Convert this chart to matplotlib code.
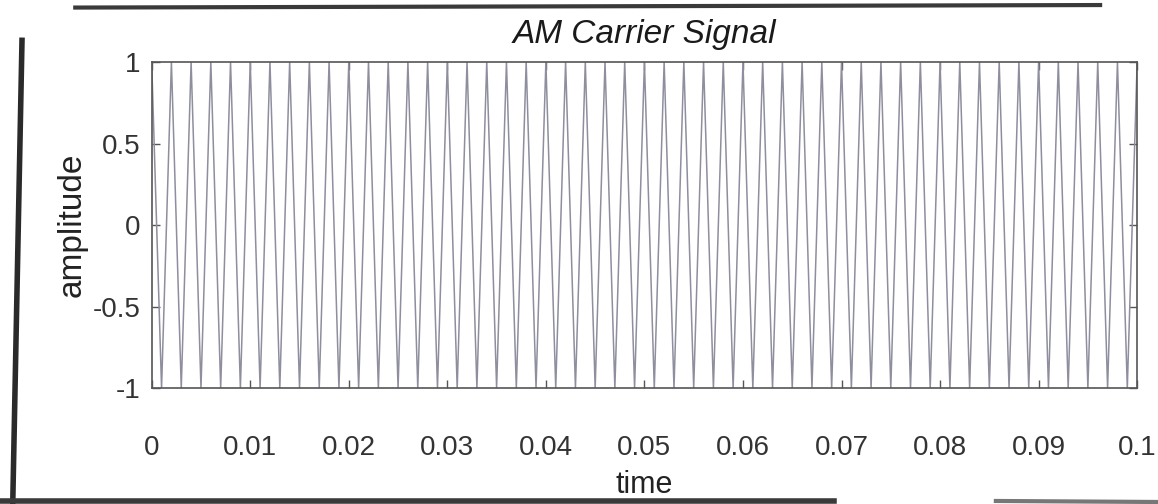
"""
AM carrier plot: sampled carrier against time, drawn in a MATLAB-like style.
"""

import numpy as np
import matplotlib.pyplot as plt
from matplotlib.lines import Line2D

# carrier samples, one every millisecond from 0 to 0.1 s
sample_step = 0.001
carrier = [
    1, -1, 1, -1, 1, -1, 1, -1, 1, -1, 1, -1, 1, -1, 1, -1, 1, -1, 1, -1,
    1, -1, 1, -1, 1, -1, 1, -1, 1, -1, 1, -1, 1, -1, 1, -1, 1, -1, 1, -1,
    1, -1, 1, -1, 1, -1, 1, -1, 1, -1, 1, -1, 1, -1, 1, -1, 1, -1, 1, -1,
    1, -1, 1, -1, 1, -1, 1, -1, 1, -1, 1, -1, 1, -1, 1, -1, 1, -1, 1, -1,
    1, -1, 1, -1, 1, -1, 1, -1, 1, -1, 1, -1, 1, -1, 1, -1, 1, -1, 1, -1,
    1,
]
time = np.arange(len(carrier)) * sample_step

x_ticks = [0, 0.01, 0.02, 0.03, 0.04, 0.05, 0.06, 0.07, 0.08, 0.09, 0.1]
x_tick_labels = ['0', '0.01', '0.02', '0.03', '0.04', '0.05', '0.06', '0.07', '0.08', '0.09', '0.1']
y_ticks = [-1, -0.5, 0, 0.5, 1]
y_tick_labels = ['-1', '-0.5', '0', '0.5', '1']

plt.rcParams['font.family'] = ['Liberation Sans', 'DejaVu Sans']

fig = plt.figure(figsize=(11.58, 5.04), dpi=100)
ax = fig.add_axes([0.131, 0.230, 0.851, 0.647])

ax.plot(time, carrier, color='#8e8e9e', linewidth=1.1)

ax.set_xlim(0, 0.1)
ax.set_ylim(-1, 1)
ax.set_xticks(x_ticks)
ax.set_xticklabels(x_tick_labels)
ax.set_yticks(y_ticks)
ax.set_yticklabels(y_tick_labels)

# MATLAB style box: ticks inside on all four sides
ax.tick_params(direction='in', top=True, right=True, length=6, width=1,
               color='#555555', labelsize=20, labelcolor='#333333')
ax.tick_params(axis='x', pad=34)
ax.tick_params(axis='y', pad=8)
for spine in ax.spines.values():
    spine.set_color('#555555')
    spine.set_linewidth(1.2)

ax.set_xlabel('time', fontsize=22, color='#222222', labelpad=6)
ax.set_ylabel('amplitude', fontsize=24, color='#222222', labelpad=4)
ax.set_title('AM Carrier Signal', fontsize=24, color='#1a1a1a',
             style='italic', pad=14)

# dark page edges around the printout
fig.add_artist(Line2D([0.019, 0.011], [0.92, 0.0], color='#2a2a2a',
                      linewidth=4, transform=fig.transFigure))
fig.add_artist(Line2D([0.065, 0.95], [0.985, 0.99], color='#3a3a3a',
                      linewidth=3, transform=fig.transFigure))
fig.add_artist(Line2D([0.0, 0.72], [0.006, 0.006], color='#3a3a3a',
                      linewidth=4, transform=fig.transFigure))
fig.add_artist(Line2D([0.86, 1.0], [0.006, 0.004], color='#777777',
                      linewidth=3, transform=fig.transFigure))

fig.savefig('out.png', dpi=100)
